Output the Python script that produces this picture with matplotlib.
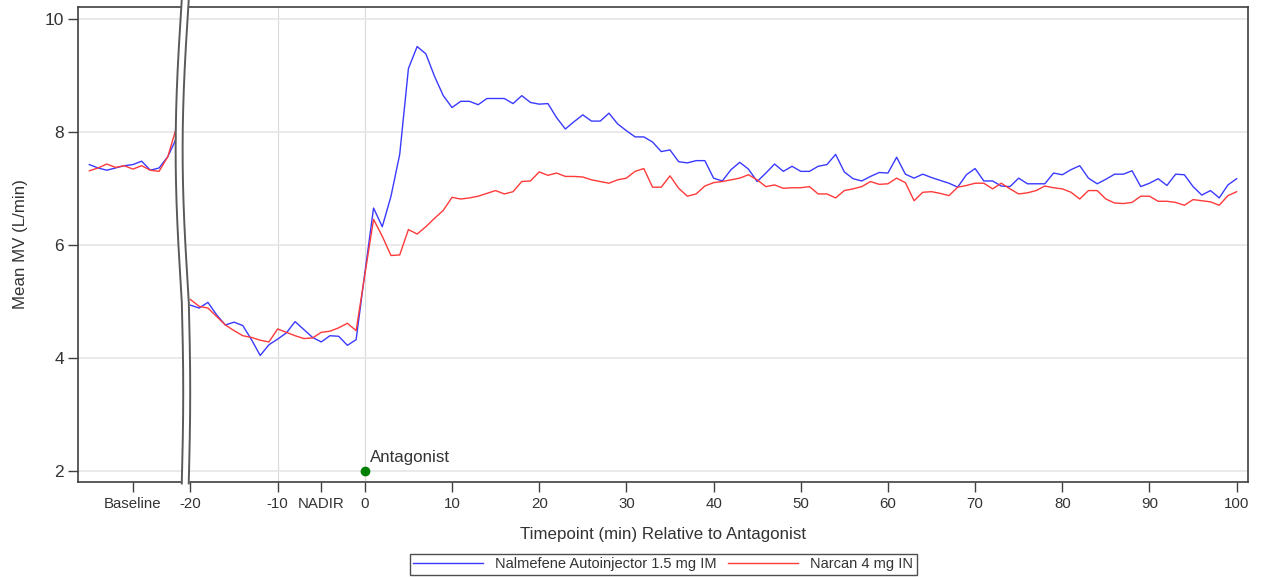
import matplotlib
matplotlib.use("Agg")
import matplotlib.pyplot as plt
from matplotlib.lines import Line2D
import numpy as np

plt.rcParams['font.family'] = ['Liberation Sans', 'DejaVu Sans']

# baseline readings (11 per arm), drawn left of the axis break
baseline_center = -26.6
baseline_offsets = [-5, -4, -3, -2, -1, 0, 1, 2, 3, 4, 5]
baseline_nalmefene = [7.42, 7.36, 7.32, 7.36, 7.40, 7.42, 7.48, 7.32, 7.36, 7.56, 7.89]
baseline_narcan = [7.31, 7.36, 7.43, 7.37, 7.40, 7.34, 7.40, 7.32, 7.30, 7.56, 8.08]

# minutes relative to antagonist dosing
time_min = np.arange(-20, 101)

nalmefene = [
    4.93, 4.88, 4.98, 4.76, 4.58, 4.63, 4.57, 4.32, 4.04, 4.23,
    4.33, 4.44, 4.64, 4.50, 4.36, 4.28, 4.39, 4.38, 4.22, 4.32,
    5.50,
    6.65, 6.32, 6.86, 7.60, 9.12, 9.51, 9.38, 8.98, 8.64, 8.43,
    8.54, 8.54, 8.48, 8.59, 8.59, 8.59, 8.50, 8.64, 8.52, 8.49,
    8.50, 8.25, 8.05,
    8.18, 8.30, 8.19, 8.19, 8.33, 8.14, 8.02, 7.91, 7.91, 7.82,
    7.65, 7.68, 7.47, 7.45, 7.49, 7.49, 7.18, 7.13, 7.33, 7.46,
    7.34, 7.12, 7.27, 7.43, 7.30, 7.39, 7.30,
    7.30, 7.39, 7.42, 7.60, 7.29, 7.17, 7.13, 7.21, 7.28, 7.27,
    7.55, 7.25, 7.18, 7.25, 7.19, 7.14, 7.09, 7.02, 7.24, 7.35,
    7.13, 7.13, 7.04, 7.03, 7.18, 7.08,
    7.08, 7.08, 7.27, 7.24, 7.33, 7.40, 7.18, 7.08, 7.16, 7.25,
    7.25, 7.31, 7.03, 7.09, 7.17, 7.05, 7.25, 7.24, 7.03, 6.88,
    6.96, 6.83, 7.06, 7.17,
]

narcan = [
    5.03, 4.91, 4.88, 4.73, 4.58, 4.48, 4.39, 4.36, 4.31, 4.28,
    4.51, 4.45, 4.39, 4.34, 4.35, 4.45, 4.47, 4.53, 4.61, 4.48,
    5.47,
    6.45, 6.15, 5.81, 5.82, 6.27, 6.19, 6.32, 6.47, 6.61, 6.84,
    6.81, 6.83, 6.86, 6.91, 6.96, 6.90, 6.94, 7.12, 7.13, 7.29,
    7.23, 7.27, 7.21,
    7.21, 7.20, 7.15, 7.12, 7.09, 7.15, 7.18, 7.30, 7.35, 7.02,
    7.02, 7.22, 7.00, 6.86, 6.90, 7.04, 7.10, 7.12, 7.15, 7.18,
    7.24, 7.15, 7.03, 7.06, 7.00, 7.01, 7.01,
    7.03, 6.90, 6.90, 6.83, 6.96, 6.99, 7.03, 7.12, 7.07, 7.08,
    7.18, 7.10, 6.78, 6.93, 6.94, 6.91, 6.87, 7.02, 7.05, 7.09,
    7.09, 6.99, 7.09, 6.99, 6.90, 6.92,
    6.96, 7.04, 7.01, 6.99, 6.93, 6.81, 6.96, 6.96, 6.81, 6.74,
    6.73, 6.75, 6.86, 6.86, 6.77, 6.77, 6.75, 6.70, 6.80, 6.78,
    6.76, 6.70, 6.87, 6.94,
]

tick_pos = [baseline_center, -20, -10, -5, 0, 10, 20, 30, 40, 50, 60, 70, 80, 90, 100]
tick_labels = ['Baseline', '-20', '-10', 'NADIR', '0', '10', '20', '30', '40',
               '50', '60', '70', '80', '90', '100']

labels = ['Nalmefene Autoinjector 1.5 mg IM', 'Narcan 4 mg IN']
colors = ['#3a3aff', '#ff3a3a']
text_color = '#333333'
frame_color = '#404040'

fig = plt.figure(figsize=(12.61, 5.78), dpi=100)
ax = fig.add_axes([78 / 1261, 96 / 578, 1170 / 1261, 475 / 578])

bx = baseline_center + np.array(baseline_offsets)
ax.plot(bx, baseline_nalmefene, color=colors[0], lw=1.0, zorder=3)
ax.plot(bx, baseline_narcan, color=colors[1], lw=1.0, zorder=3)
ax.plot(time_min, nalmefene, color=colors[0], lw=1.0, zorder=3)
ax.plot(time_min, narcan, color=colors[1], lw=1.0, zorder=3)

ax.set_xlim(-32.9, 101.3)
ax.set_ylim(1.8, 10.21)
ax.set_yticks([2, 4, 6, 8, 10])
ax.set_xticks(tick_pos)
ax.set_xticklabels(tick_labels)
ax.grid(axis='y', color='#e6e6e6', lw=1.2, zorder=0)
for xv in (-10, 0):
    ax.axvline(xv, color='#dadada', lw=0.8, zorder=0)

for sp in ax.spines.values():
    sp.set_color(frame_color)
    sp.set_linewidth(1.2)
ax.tick_params(direction='out', length=7, width=1, color=frame_color,
               labelcolor=text_color, pad=4)
ax.tick_params(axis='x', labelsize=10.8)
ax.tick_params(axis='y', labelsize=12.5, pad=3)

ax.set_xlabel('Timepoint (min) Relative to Antagonist', fontsize=12.2,
              color=text_color, labelpad=11)
ax.set_ylabel('Mean MV (L/min)', fontsize=12.2, color=text_color, labelpad=12)

# antagonist dosing marker
ax.plot(0, 2, 'o', color='#008000', ms=6, zorder=4, clip_on=False)
ax.annotate('Antagonist', (0, 2), xytext=(4, 4), textcoords='offset points',
            fontsize=12.2, color=text_color, ha='left', va='bottom')

# axis break between baseline and the timed readings
s = np.linspace(0, 1, 300)
dx = np.where(s < 0.62, -0.7 * np.sin(np.pi * s / 0.62),
              0.17 * np.sin(np.pi * (s - 0.62) / 0.38))
top, bot = 1 + 7 / 475, -1.5 / 475
yb = top - s * (top - bot)
left_x = -21.0 + dx
right_x = -20.2 + dx
tr = ax.get_xaxis_transform()
ax.fill_betweenx(yb, left_x, right_x, transform=tr, color='white',
                 zorder=5, clip_on=False, lw=0)
for xs in (left_x, right_x):
    ax.plot(xs, yb, transform=tr, color='#5a5a5a', lw=1.4, zorder=6,
            clip_on=False)

handles = [Line2D([], [], color=c, lw=1.0) for c in colors]
leg = fig.legend(handles, labels, loc='lower center', ncol=2,
                 bbox_to_anchor=(0.526, 0.0), fontsize=10.5, frameon=True,
                 fancybox=False, handlelength=4.8, columnspacing=0.8,
                 handletextpad=0.8, borderpad=0.25, borderaxespad=0.2)
leg.get_frame().set_edgecolor('#222222')
leg.get_frame().set_linewidth(1.0)
for t in leg.get_texts():
    t.set_color(text_color)

fig.savefig('out.png', dpi=100)
